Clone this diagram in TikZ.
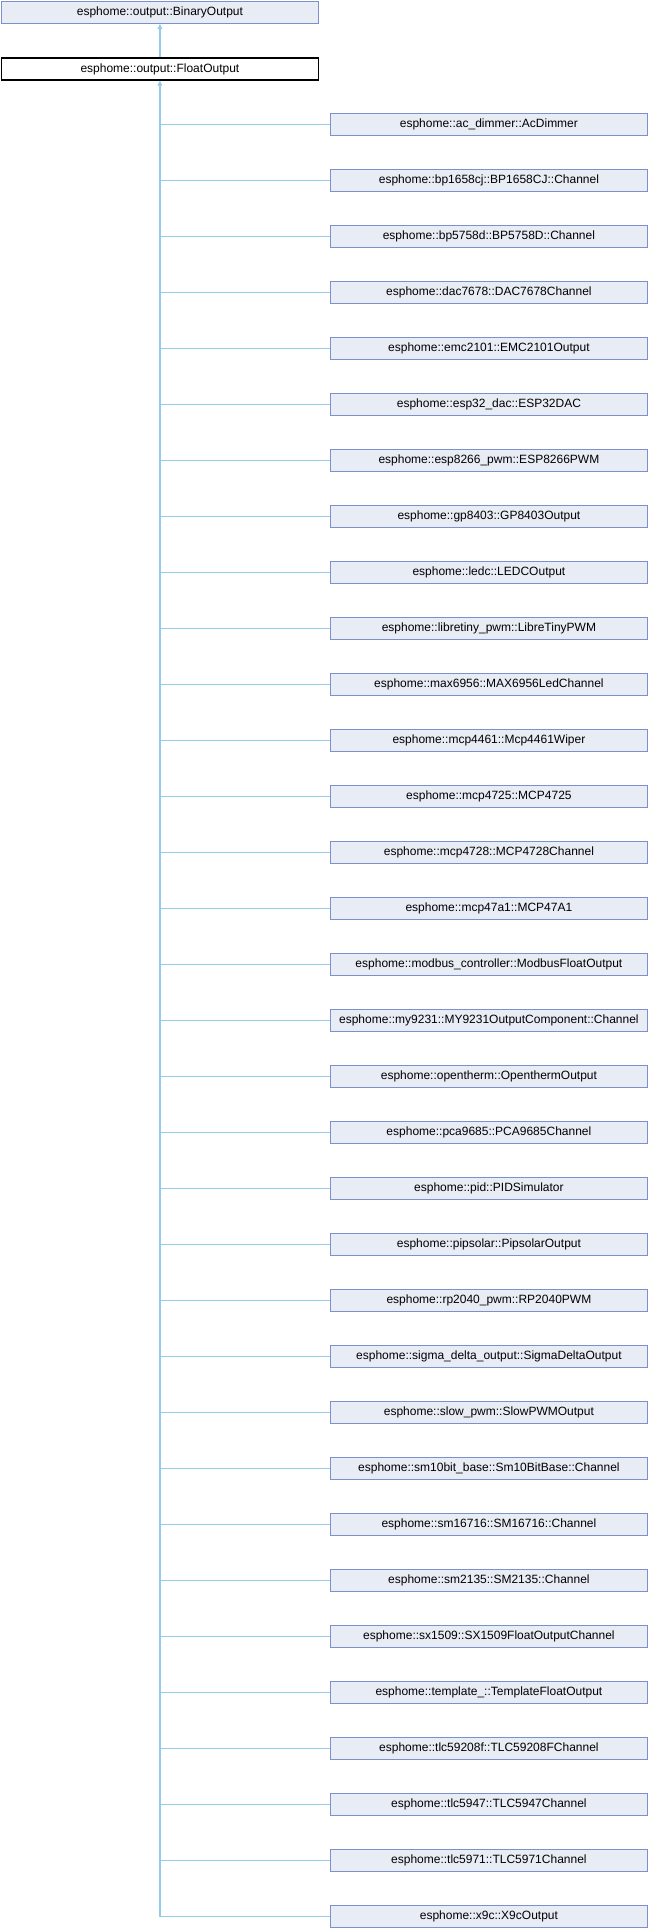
\documentclass[tikz,border=0pt]{standalone}
\usepackage{fontspec}
\setmainfont{Liberation Sans}
\usetikzlibrary{arrows.meta}
\definecolor{boxfill}{HTML}{E8ECF5}
\definecolor{boxline}{HTML}{7C90C9}
\definecolor{edgecol}{HTML}{93CBEA}
\tikzset{
  cls/.style={draw=boxline, fill=boxfill, line width=1.2pt, rectangle, anchor=north west,
    minimum width=317.4pt, minimum height=22.1pt, inner sep=0pt,
    font=\fontsize{12}{14}\selectfont},
  cur/.style={cls, draw=black, fill=white},
  edge/.style={draw=edgecol, line width=1.2pt},
  inh/.style={edge, -{Triangle[width=4.6pt,length=5pt]}}
}
\begin{document}
\begin{tikzpicture}[x=1pt,y=-1pt]
\useasboundingbox (0,0) rectangle (648,1928);
\node[cls] (binary) at (0.6,0.6) {esphome::output::BinaryOutput};
\node[cur] (float) at (0.6,57.3) {esphome::output::FloatOutput};
\foreach \lab [count=\i] in {
esphome::ac\_dimmer::AcDimmer,
esphome::bp1658cj::BP1658CJ::Channel,
esphome::bp5758d::BP5758D::Channel,
esphome::dac7678::DAC7678Channel,
esphome::emc2101::EMC2101Output,
esphome::esp32\_dac::ESP32DAC,
esphome::esp8266\_pwm::ESP8266PWM,
esphome::gp8403::GP8403Output,
esphome::ledc::LEDCOutput,
esphome::libretiny\_pwm::LibreTinyPWM,
esphome::max6956::MAX6956LedChannel,
esphome::mcp4461::Mcp4461Wiper,
esphome::mcp4725::MCP4725,
esphome::mcp4728::MCP4728Channel,
esphome::mcp47a1::MCP47A1,
esphome::modbus\_controller::ModbusFloatOutput,
esphome::my9231::MY9231OutputComponent::Channel,
esphome::opentherm::OpenthermOutput,
esphome::pca9685::PCA9685Channel,
esphome::pid::PIDSimulator,
esphome::pipsolar::PipsolarOutput,
esphome::rp2040\_pwm::RP2040PWM,
esphome::sigma\_delta\_output::SigmaDeltaOutput,
esphome::slow\_pwm::SlowPWMOutput,
esphome::sm10bit\_base::Sm10BitBase::Channel,
esphome::sm16716::SM16716::Channel,
esphome::sm2135::SM2135::Channel,
esphome::sx1509::SX1509FloatOutputChannel,
esphome::template\_::TemplateFloatOutput,
esphome::tlc59208f::TLC59208FChannel,
esphome::tlc5947::TLC5947Channel,
esphome::tlc5971::TLC5971Channel,
esphome::x9c::X9cOutput} {
  \node[cls] (c\i) at (329.6,{112.6+56*(\i-1)}) {\lab};
}
\draw[inh] (float.north) -- (binary.south);
\draw[inh] (c33.west) -| (float.south);
\foreach \i in {1,...,32} {
  \draw[edge] (c\i.west) -- (c\i.west -| float.south);
}
\end{tikzpicture}
\end{document}
